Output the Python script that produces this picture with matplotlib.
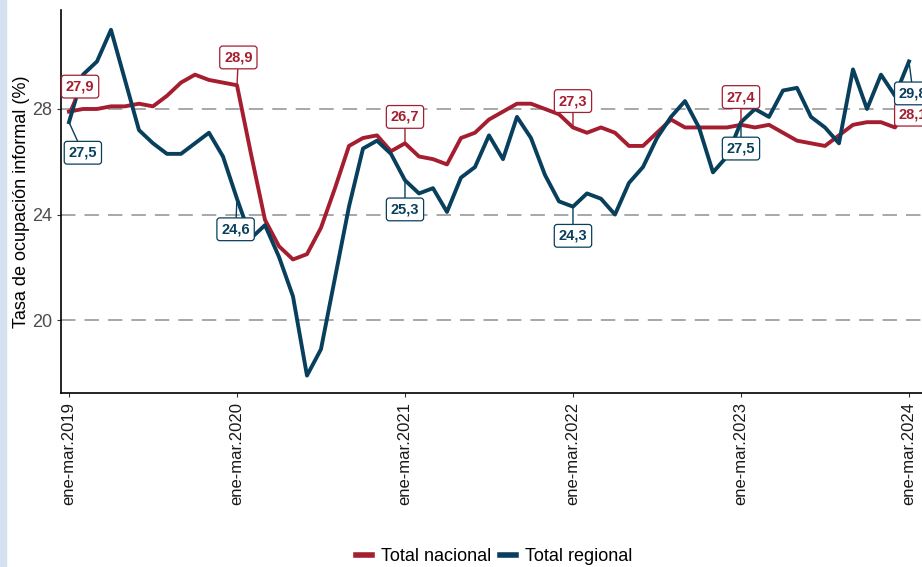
import numpy as np
import matplotlib
matplotlib.use("Agg")
import matplotlib.pyplot as plt
from matplotlib.patches import Rectangle

plt.rcParams['font.family'] = ['Liberation Sans', 'DejaVu Sans']

# 61 trimestres moviles, ene-mar 2019 .. ene-mar 2024
nacional = [27.9, 28.0, 28.0, 28.1, 28.1, 28.2, 28.1, 28.5, 29.0, 29.3,
            29.1, 29.0, 28.9, 26.3, 23.8, 22.8, 22.3, 22.5, 23.5, 25.0,
            26.6, 26.9, 27.0, 26.4, 26.7, 26.2, 26.1, 25.9, 26.9, 27.1,
            27.6, 27.9, 28.2, 28.2, 28.0, 27.8, 27.3, 27.1, 27.3, 27.1,
            26.6, 26.6, 27.1, 27.6, 27.3, 27.3, 27.3, 27.3, 27.4, 27.3,
            27.4, 27.1, 26.8, 26.7, 26.6, 27.0, 27.4, 27.5, 27.5, 27.3,
            28.1]
regional = [27.5, 29.3, 29.8, 31.0, 29.1, 27.2, 26.7, 26.3, 26.3, 26.7,
            27.1, 26.2, 24.6, 23.1, 23.6, 22.4, 20.9, 17.9, 18.9, 21.6,
            24.3, 26.5, 26.8, 26.3, 25.3, 24.8, 25.0, 24.1, 25.4, 25.8,
            27.0, 26.1, 27.7, 26.9, 25.5, 24.5, 24.3, 24.8, 24.6, 24.0,
            25.2, 25.8, 26.9, 27.7, 28.3, 27.3, 25.6, 26.2, 27.5, 28.0,
            27.7, 28.7, 28.8, 27.7, 27.3, 26.7, 29.5, 28.0, 29.3, 28.5,
            29.8]
tick_pos = [0, 12, 24, 36, 48, 60]
tick_labels = ["ene-mar.2019", "ene-mar.2020", "ene-mar.2021",
               "ene-mar.2022", "ene-mar.2023", "ene-mar.2024"]
label_idx = [0, 12, 24, 36, 48, 60]

c_nac = "#A51E30"
c_reg = "#073F5C"

# label offsets in points (dx, dy)
off_nac = [(8, 18), (1, 20), (0, 19), (0, 19), (0, 20), (3, -6)]
off_reg = [(10, -22), (-1, -22), (0, -21), (0, -21), (0, -19), (3, -23)]

fig = plt.figure(figsize=(9.22, 5.67), dpi=100)
fig.patches.append(Rectangle((0, 0), 6/922, 1, transform=fig.transFigure,
                             color="#d5e0f1", zorder=0))
ax = fig.add_axes([61/922, 1-393/567, 1-61/922, 383/567])

x = np.arange(len(nacional))
for yv in [20, 24, 28]:
    ax.axhline(yv, color="#a0a0a0", lw=1.3, dashes=(8, 5), zorder=1)
ax.plot(x, nacional, color=c_nac, lw=2.8, label="Total nacional", zorder=3,
        solid_joinstyle='round')
ax.plot(x, regional, color=c_reg, lw=2.8, label="Total regional", zorder=3,
        solid_joinstyle='round')

def lab(i, vals, off, col):
    ax.annotate(("%.1f" % vals[i]).replace(".", ","), xy=(i, vals[i]),
                xytext=off, textcoords="offset points", ha="center", va="center",
                fontsize=10.5, fontweight="bold", color=col,
                bbox=dict(boxstyle="round,pad=0.3,rounding_size=0.2", fc="white",
                          ec=col, lw=0.9, alpha=1),
                arrowprops=dict(arrowstyle="-", color=col, lw=1.0,
                                shrinkA=0, shrinkB=0),
                zorder=5, annotation_clip=False)

for k, i in enumerate(label_idx):
    lab(i, nacional, off_nac[k], c_nac)
    lab(i, regional, off_reg[k], c_reg)

ax.set_xlim(-0.57, 60.93)
ax.set_ylim(17.24, 31.75)
ax.set_yticks([20, 24, 28])
ax.set_xticks(tick_pos)
ax.set_xticklabels(tick_labels, rotation=90, fontsize=12, color="#1a1a1a")
ax.tick_params(axis='y', labelsize=13, labelcolor="#4d4d4d", color="#333333", length=3)
ax.tick_params(axis='x', color="#333333", length=3)
ax.set_ylabel("Tasa de ocupación informal (%)", fontsize=13, labelpad=1)
for s in ["top", "right"]:
    ax.spines[s].set_visible(False)
for s in ["left", "bottom"]:
    ax.spines[s].set_linewidth(1.2)

fig.legend(loc="center", bbox_to_anchor=(0.536, 0.018), ncol=2, frameon=False,
           fontsize=13, handlelength=0.9, handletextpad=0.5, columnspacing=0.5,
           borderpad=0)
for ln in fig.legends[0].get_lines():
    ln.set_linewidth(4)

fig.savefig("out.png", dpi=100)
